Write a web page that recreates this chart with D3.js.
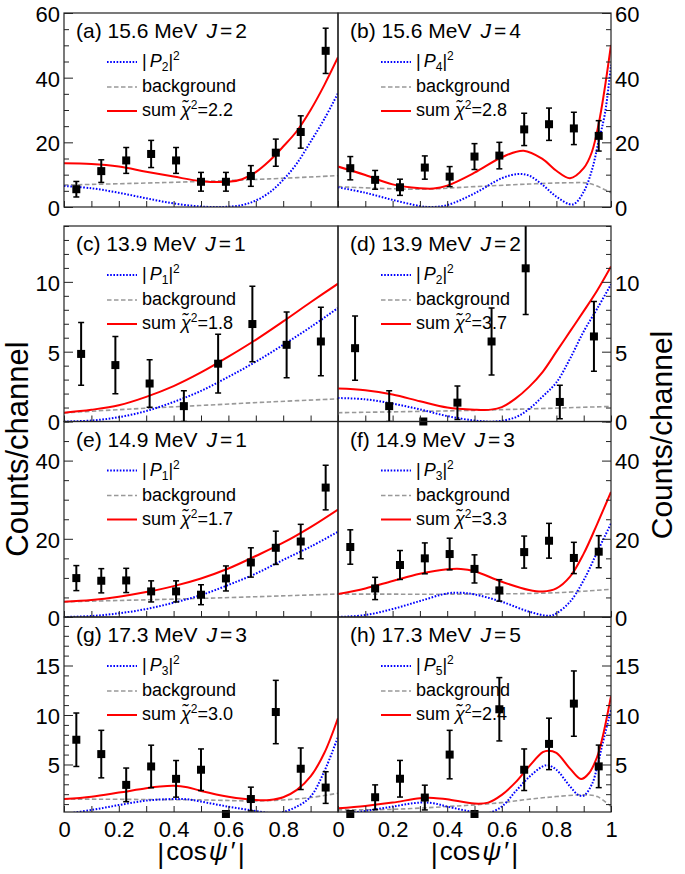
<!DOCTYPE html>
<html>
<head>
<meta charset="utf-8">
<script src="https://cdn.jsdelivr.net/npm/d3@7"></script>
<style>
  body { margin: 0; background: #fff; }
  text { font-family: "Liberation Sans", Arial, Helvetica, sans-serif; fill: #000; }
</style>
</head>
<body>
<div id="chart"></div>
<script>
// bin centres of |cos psi'|
const bins11 = [0.045, 0.136, 0.227, 0.318, 0.409, 0.5, 0.591, 0.682, 0.773, 0.864, 0.955];
const bins8 = [0.0625, 0.1875, 0.3125, 0.4375, 0.5625, 0.6875, 0.8125, 0.9375];

const panelLabels = ["(a)", "(b)", "(c)", "(d)", "(e)", "(f)", "(g)", "(h)"];
const energies = ["15.6", "15.6", "13.9", "13.9", "14.9", "14.9", "17.3", "17.3"];
const spins = [2, 4, 1, 2, 1, 3, 3, 5];
const chi2 = ["2.2", "2.8", "1.8", "3.7", "1.7", "3.3", "3.0", "2.4"];

// counts and errors
const countsA = [5.5, 11.1, 14.4, 16.4, 14.4, 7.8, 7.8, 9.6, 16.8, 23.2, 48.3];
const errA = [2.4, 3.5, 4, 4.2, 4, 2.9, 2.9, 3.2, 4.2, 5, 7];
const countsB = [12.0, 8.4, 6.1, 12.2, 9.4, 15.6, 15.9, 24.0, 25.6, 24.3, 22.0];
const errB = [3.6, 2.9, 2.5, 3.6, 3.1, 4, 4.1, 5, 5, 5, 4.7];
const countsC = [4.84, 4.04, 2.72, 1.1, 4.14, 6.98, 5.49, 5.73];
const errC = [2.25, 2.05, 1.7, 1.1, 2.1, 2.7, 2.35, 2.45];
const countsD = [5.25, 1.1, 0, 1.35, 5.73, 10.97, 1.4, 6.09];
const errD = [2.3, 1.1, 0, 1.2, 2.4, 3.3, 1.2, 2.5];
const countsE = [9.95, 9.27, 9.35, 6.55, 6.55, 5.7, 9.86, 13.95, 17.7, 19.3, 33.1];
const errE = [3.2, 3.1, 3.1, 2.7, 2.7, 2.55, 3.2, 3.75, 4.25, 4.4, 5.7];
const countsF = [17.9, 7.3, 13.3, 15.0, 16.1, 12.3, 6.8, 16.6, 19.5, 15.1, 16.7];
const errF = [4.4, 2.85, 3.7, 3.95, 4.05, 3.6, 2.75, 4.1, 4.45, 4, 4.1];
const countsG = [7.5, 6.05, 2.94, 4.8, 3.55, 4.47, 0, 1.51, 10.3, 4.57, 2.67];
const errG = [2.7, 2.4, 1.7, 2.15, 1.85, 2.1, 0, 1.2, 3.2, 2.1, 1.6];
const countsH = [0, 1.69, 3.56, 1.66, 6.0, 0, 10.58, 4.47, 7.08, 11.15, 4.81];
const errH = [0, 1.25, 1.85, 1.25, 2.45, 0, 3.2, 2.1, 2.6, 3.3, 2.15];

// fitted curves [x, y]
const sumA = [[0,13.5],[0.1,13.3],[0.2,12.5],[0.3,10.9],[0.4,9.4],[0.5,8.0],[0.6,7.8],[0.65,8.6],[0.7,10.8],[0.75,14.3],[0.8,18.7],[0.85,23.5],[0.9,30],[0.95,37.7],[1,46.3]];
const legA = [[0,6.5],[0.1,5.8],[0.2,4.4],[0.3,2.7],[0.4,1.1],[0.5,0.15],[0.58,0],[0.65,0.6],[0.7,2.0],[0.75,4.5],[0.8,8.4],[0.85,13.5],[0.9,20.2],[0.95,27.2],[1,35.2]];
const bgA = [[0,6.8],[0.25,7.3],[0.5,7.9],[0.75,8.7],[1,9.7]];

const sumB = [[0,12.5],[0.1,9.9],[0.2,7.0],[0.3,5.8],[0.35,5.7],[0.4,6.6],[0.5,10.6],[0.6,15.4],[0.68,17.4],[0.75,14.8],[0.8,11.2],[0.85,8.9],[0.9,12],[0.93,17],[0.96,28],[1,50.1]];
const legB = [[0,6.1],[0.1,4.4],[0.2,2.2],[0.3,0.3],[0.34,0],[0.4,0.6],[0.5,4.2],[0.6,8.9],[0.66,10.2],[0.7,9.7],[0.75,6.8],[0.8,3.2],[0.86,0.8],[0.9,4.7],[0.93,11.4],[0.953,19.7],[0.978,29],[1,44]];
const bgB = [[0,6.3],[0.3,5.5],[0.5,6.3],[0.7,7.1],[0.85,7.5],[0.92,7.3],[1,4.4]];

const sumC = [[0,0.63],[0.1,0.84],[0.2,1.16],[0.3,1.76],[0.4,2.53],[0.5,3.51],[0.6,4.64],[0.7,5.85],[0.8,7.17],[0.9,8.54],[1,9.87]];
const legC = [[0,0],[0.1,0.07],[0.2,0.31],[0.3,0.75],[0.4,1.4],[0.5,2.19],[0.6,3.2],[0.7,4.28],[0.8,5.49],[0.9,6.76],[1,8.13]];
const bgC = [[0,0.62],[0.25,0.9],[0.5,1.15],[0.75,1.4],[1,1.62]];

const sumD = [[0,2.36],[0.1,2.24],[0.2,1.93],[0.3,1.45],[0.4,1.0],[0.5,0.85],[0.56,0.85],[0.6,1.03],[0.65,1.64],[0.7,2.48],[0.75,3.56],[0.8,5.0],[0.85,6.45],[0.9,7.9],[0.95,9.4],[1,11.1]];
const legD = [[0,1.68],[0.1,1.59],[0.2,1.28],[0.3,0.87],[0.4,0.39],[0.5,0.07],[0.577,0],[0.65,0.3],[0.7,0.9],[0.75,1.8],[0.8,2.8],[0.85,4.5],[0.9,6.45],[0.95,8.1],[1,9.82]];
const bgD = [[0,0.63],[0.5,0.8],[1,1.08]];

const sumE = [[0,3.9],[0.1,4.34],[0.2,5.19],[0.3,6.38],[0.4,7.9],[0.5,9.86],[0.6,12.4],[0.7,15.6],[0.8,19.0],[0.9,23.0],[1,27.5]];
const legE = [[0,0],[0.1,0.25],[0.2,0.94],[0.3,2.04],[0.4,3.66],[0.5,5.6],[0.6,8.2],[0.7,11.1],[0.8,14.6],[0.9,18.0],[1,21.8]];
const bgE = [[0,3.9],[0.5,4.76],[1,5.87]];

const sumF = [[0,5.87],[0.1,7.3],[0.2,9.2],[0.3,11.05],[0.4,12.2],[0.45,12.3],[0.5,11.7],[0.6,9.0],[0.7,6.9],[0.75,6.5],[0.8,7.3],[0.85,10.3],[0.9,16.2],[0.95,23.9],[1,32]];
const legF = [[0,0],[0.1,0.5],[0.2,2.04],[0.3,4.08],[0.4,6.04],[0.45,6.2],[0.5,5.78],[0.6,3.9],[0.7,1.36],[0.775,0.3],[0.8,0.94],[0.85,3.9],[0.9,9.4],[0.95,16.7],[1,23.9]];
const bgF = [[0,5.87],[0.5,5.87],[0.8,6.2],[1,7.1]];

const sumG = [[0,1.51],[0.1,1.75],[0.2,2.16],[0.3,2.6],[0.35,2.77],[0.4,2.84],[0.45,2.7],[0.5,2.33],[0.6,1.75],[0.7,1.42],[0.75,1.42],[0.8,1.69],[0.85,2.43],[0.9,3.79],[0.95,6.16],[1,9.7]];
const legG = [[0,0],[0.1,0.4],[0.2,0.9],[0.3,1.35],[0.4,1.51],[0.45,1.48],[0.5,1.25],[0.6,0.74],[0.7,0.3],[0.775,0.05],[0.8,0.2],[0.85,0.74],[0.9,1.75],[0.95,4.3],[1,7.8]];
const bgG = [[0,1.51],[0.5,1.42],[0.7,1.32],[0.8,1.42],[0.9,1.66],[1,2.1]];

const sumH = [[0,0.58],[0.1,0.81],[0.2,1.15],[0.3,1.59],[0.35,1.62],[0.4,1.49],[0.5,1.05],[0.55,1.15],[0.6,1.93],[0.65,3.19],[0.7,4.81],[0.75,6.24],[0.77,6.4],[0.8,6.17],[0.85,4.58],[0.89,3.53],[0.92,4.14],[0.95,5.83],[0.97,7.86],[1,11.9]];
const legH = [[0,0],[0.1,0.3],[0.2,0.75],[0.3,1.15],[0.35,1.08],[0.4,0.75],[0.5,0.17],[0.54,0],[0.6,0.75],[0.65,2.27],[0.7,3.73],[0.75,4.81],[0.77,4.92],[0.8,4.47],[0.85,2.78],[0.88,1.93],[0.9,1.85],[0.93,3.0],[0.95,4.81],[0.97,7.2],[1,10.5]];
const bgH = [[0,0.41],[0.2,0.47],[0.4,0.75],[0.5,0.92],[0.6,1.15],[0.7,1.49],[0.8,1.76],[0.9,1.93],[0.95,1.76],[1,0.75]];

const yDomains = [[0, 60], [0, 14], [0, 50], [0.2, 19.9]];
const yMajorStep = [20, 5, 20, 5];
const yMinorStep = [5, 1, 5, 1];
const xMajor = [0, 0.2, 0.4, 0.6, 0.8, 1];
const xMinor = [0.1, 0.3, 0.5, 0.7, 0.9];

const panels = [
  { bins: bins11, counts: countsA, err: errA, sum: sumA, leg: legA, bg: bgA },
  { bins: bins11, counts: countsB, err: errB, sum: sumB, leg: legB, bg: bgB },
  { bins: bins8, counts: countsC, err: errC, sum: sumC, leg: legC, bg: bgC },
  { bins: bins8, counts: countsD, err: errD, sum: sumD, leg: legD, bg: bgD },
  { bins: bins11, counts: countsE, err: errE, sum: sumE, leg: legE, bg: bgE },
  { bins: bins11, counts: countsF, err: errF, sum: sumF, leg: legF, bg: bgF },
  { bins: bins11, counts: countsG, err: errG, sum: sumG, leg: legG, bg: bgG },
  { bins: bins11, counts: countsH, err: errH, sum: sumH, leg: legH, bg: bgH },
];

const width = 685;
const height = 874;
const cols = [[64, 338], [338, 611]];
const rows = [[13, 207], [226, 421.5], [421.5, 617], [617, 812]];

const svg = d3.select("#chart").append("svg")
  .attr("width", width).attr("height", height);

const steps = (d, s) => d3.range(Math.ceil(d[0] / s - 1e-9) * s, d[1] + 1e-9, s);
const fmt = (d) => (d === 0 || d === 1 ? String(d) : d3.format(".1f")(d));

panels.forEach((p, i) => {
  const col = i % 2;
  const row = Math.floor(i / 2);
  const [x0, x1] = cols[col];
  const [y0, y1] = rows[row];

  const x = d3.scaleLinear().domain([0, 1]).range([x0, x1]);
  const y = d3.scaleLinear().domain(yDomains[row]).range([y1, y0]);

  const clipId = "clip" + i;
  svg.append("clipPath").attr("id", clipId)
    .append("rect").attr("x", x0).attr("y", y0)
    .attr("width", x1 - x0).attr("height", y1 - y0);

  const g = svg.append("g");

  // curves
  const line = d3.line().x((d) => x(d[0])).y((d) => y(d[1]))
    .curve(d3.curveCatmullRom.alpha(0.5));
  const curves = g.append("g").attr("clip-path", `url(#${clipId})`);
  curves.append("path").attr("d", line(p.bg)).attr("fill", "none")
    .attr("stroke", "#999").attr("stroke-width", 1.6).attr("stroke-dasharray", "4.5,2.5");
  curves.append("path").attr("d", line(p.leg)).attr("fill", "none")
    .attr("stroke", "#0000ff").attr("stroke-width", 2).attr("stroke-dasharray", "1.6,1.6");
  curves.append("path").attr("d", line(p.sum)).attr("fill", "none")
    .attr("stroke", "#ff0000").attr("stroke-width", 2);

  // title
  const title = g.append("text").attr("x", x0 + 12).attr("y", y0 + 25)
    .attr("font-size", 21);
  title.append("tspan").text(`${panelLabels[i]} ${energies[i]} MeV`);
  title.append("tspan").attr("dx", 9).attr("font-style", "italic").text("J");
  title.append("tspan").attr("dx", 3).text("=");
  title.append("tspan").attr("dx", 3).text(spins[i]);

  // legend
  const lx0 = x0 + 43, lx1 = x0 + 73, tx = x0 + 78;
  const lg = g.append("g");
  const rowsY = [y0 + 49, y0 + 74, y0 + 98];
  lg.append("line").attr("x1", lx0).attr("x2", lx1).attr("y1", rowsY[0]).attr("y2", rowsY[0])
    .attr("stroke", "#0000ff").attr("stroke-width", 2).attr("stroke-dasharray", "1.6,1.6");
  lg.append("line").attr("x1", lx0).attr("x2", lx1).attr("y1", rowsY[1]).attr("y2", rowsY[1])
    .attr("stroke", "#999").attr("stroke-width", 1.6).attr("stroke-dasharray", "4.5,2.5");
  lg.append("line").attr("x1", lx0).attr("x2", lx1).attr("y1", rowsY[2]).attr("y2", rowsY[2])
    .attr("stroke", "#ff0000").attr("stroke-width", 2);

  const t1 = lg.append("text").attr("x", tx).attr("y", rowsY[0] + 5).attr("font-size", 18);
  t1.append("tspan").text("|");
  t1.append("tspan").attr("dx", 3).attr("font-style", "italic").text("P");
  t1.append("tspan").attr("font-size", 12).attr("dy", 4).text(spins[i]);
  t1.append("tspan").attr("dy", -4).text("|");
  t1.append("tspan").attr("font-size", 12).attr("dy", -7).text("2");

  lg.append("text").attr("x", tx).attr("y", rowsY[1] + 5).attr("font-size", 18).text("background");

  const t3 = lg.append("text").attr("x", tx).attr("y", rowsY[2] + 5).attr("font-size", 18);
  t3.append("tspan").text("sum ");
  t3.append("tspan").attr("font-style", "italic").text("\u03C7\u0303");
  t3.append("tspan").attr("font-size", 12).attr("dy", -7).text("2");
  t3.append("tspan").attr("dy", 7).text("=" + chi2[i]);

  // data points
  const pts = g.append("g");
  const bars = pts.append("g").attr("clip-path", `url(#${clipId})`);
  p.counts.forEach((c, k) => {
    const e = p.err[k];
    const cx = x(p.bins[k]);
    if (e > 0) {
      bars.append("line").attr("x1", cx).attr("x2", cx)
        .attr("y1", y(c - e)).attr("y2", y(c + e))
        .attr("stroke", "#000").attr("stroke-width", 2);
      [c - e, c + e].forEach((v) => {
        bars.append("line").attr("x1", cx - 3).attr("x2", cx + 3)
          .attr("y1", y(v)).attr("y2", y(v))
          .attr("stroke", "#000").attr("stroke-width", 1.5);
      });
    }
    pts.append("rect").attr("x", cx - 4).attr("y", y(c) - 4)
      .attr("width", 8).attr("height", 8).attr("fill", "#000");
  });

  // frame
  g.append("rect").attr("x", x0).attr("y", y0)
    .attr("width", x1 - x0).attr("height", y1 - y0)
    .attr("fill", "none").attr("stroke", "#222").attr("stroke-width", 1.2);

  // y axis
  const yMaj = steps(yDomains[row], yMajorStep[row]);
  const yMin = steps(yDomains[row], yMinorStep[row]).filter((v) => !yMaj.some((m) => Math.abs(m - v) < 1e-9));
  const yAxisMaj = (col === 0 ? d3.axisLeft(y) : d3.axisRight(y))
    .tickValues(yMaj).tickSize(-9).tickPadding(4).tickFormat(d3.format("d"));
  const yAxisMin = (col === 0 ? d3.axisLeft(y) : d3.axisRight(y))
    .tickValues(yMin).tickSize(-5).tickFormat("");
  const ax = col === 0 ? x0 : x1;
  [yAxisMaj, yAxisMin].forEach((a) => {
    const ag = g.append("g").attr("transform", `translate(${ax},0)`).call(a);
    ag.select(".domain").remove();
    ag.selectAll("line").attr("stroke", "#222");
    ag.selectAll("text").attr("font-size", 22).attr("fill", "#000").attr("dy", "0.38em");
  });

  // x axis
  const labelled = row === 3;
  const xAxisMaj = d3.axisBottom(x).tickValues(xMajor).tickSize(-6).tickPadding(9)
    .tickFormat((d) => (labelled && !(col === 0 && d === 1) ? fmt(d) : ""));
  const xAxisMin = d3.axisBottom(x).tickValues(xMinor).tickSize(-6).tickFormat("");
  [xAxisMaj, xAxisMin].forEach((a) => {
    const ag = g.append("g").attr("transform", `translate(0,${y1})`).call(a);
    ag.select(".domain").remove();
    ag.selectAll("line").attr("stroke", "#222");
    ag.selectAll("text").attr("font-size", 22).attr("fill", "#000");
  });

  if (labelled) {
    const xt = svg.append("text").attr("x", (x0 + x1) / 2).attr("y", 860)
      .attr("text-anchor", "middle").attr("font-size", 26);
    xt.append("tspan").attr("font-size", 27).attr("dy", 3).text("|");
    xt.append("tspan").attr("dy", -3).attr("dx", 2).text("cos");
    xt.append("tspan").attr("dx", 2).attr("font-style", "italic").text("\u03C8");
    xt.append("tspan").attr("dx", 3).text("\u2032");
    xt.append("tspan").attr("font-size", 27).attr("dy", 3).attr("dx", 2).text("|");
  }
});

// y titles
svg.append("text").attr("transform", "translate(28,449) rotate(-90)")
  .attr("text-anchor", "middle").attr("font-size", 31).text("Counts/channel");
svg.append("text").attr("transform", "translate(672,435) rotate(-90)")
  .attr("text-anchor", "middle").attr("font-size", 30).text("Counts/channel");
</script>
</body>
</html>
